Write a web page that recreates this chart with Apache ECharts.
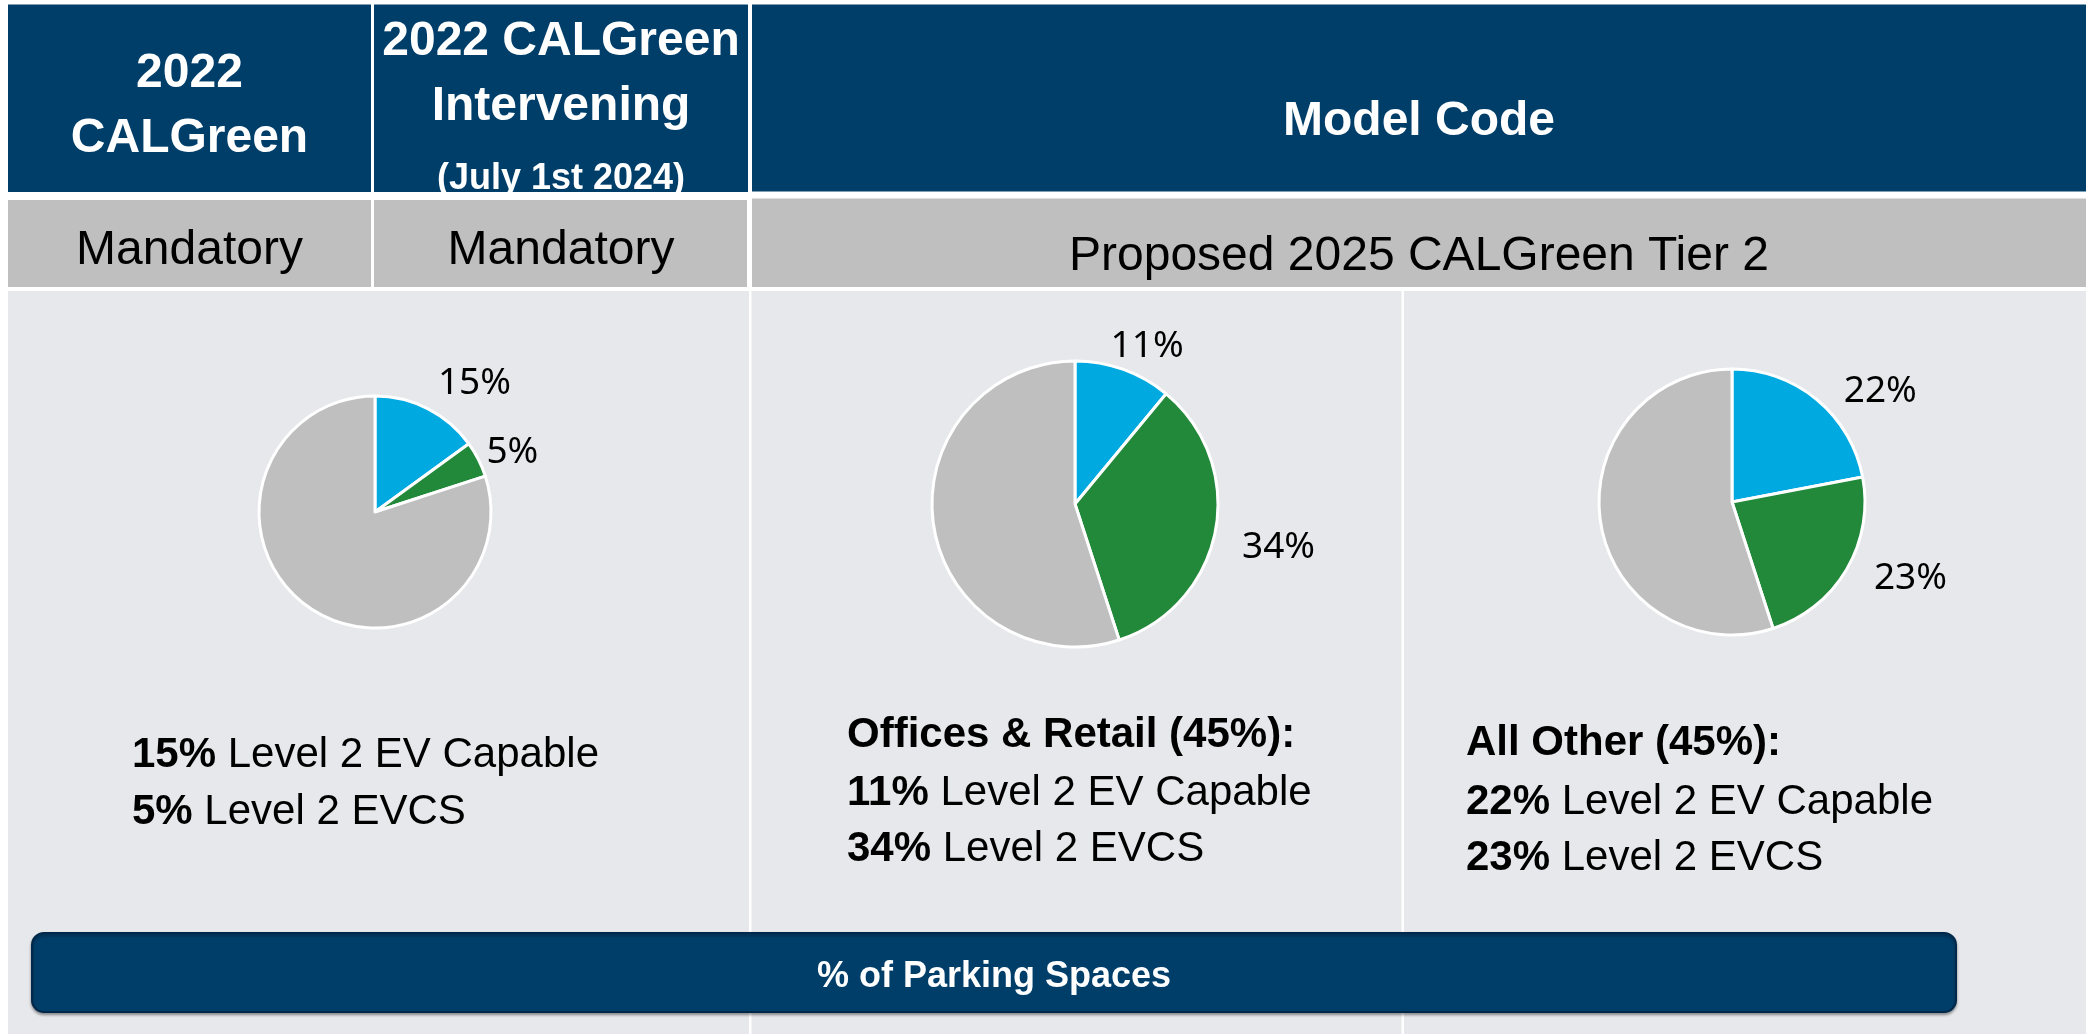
<!DOCTYPE html>
<html><head><meta charset="utf-8">
<script src="https://cdn.jsdelivr.net/npm/echarts@6/dist/echarts.min.js"></script>
<style>html,body{margin:0;padding:0;background:#fff;overflow:hidden;} #c{width:2086px;height:1034px;}</style>
</head><body><div id="c"></div>
<script>
// ---- data ----
const categories = ['Level 2 EV Capable', 'Level 2 EVCS', 'Remaining Spaces'];
const groupTitles = ['', 'Offices & Retail (45%):', 'All Other (45%):'];
const evCapable = [15, 11, 22];
const evcs = [5, 34, 23];
const remaining = [80, 55, 55];
const headerCol1 = ['2022', 'CALGreen'];
const headerCol2 = ['2022 CALGreen', 'Intervening', '(July 1st 2024)'];
const headerCol3 = ['Model Code'];
const subHeaders = ['Mandatory', 'Mandatory', 'Proposed 2025 CALGreen Tier 2'];
const footerLabel = '% of Parking Spaces';

// ---- styles / layout ----
const NAVY = '#003e6a', SUBGRAY = '#bfbfbf', BODY = '#e7e8ec';
const COLORS = ['#00a9e0', '#22883a', '#bfbfbf'];
const FONT = 'Liberation Sans, Arial, sans-serif';
const TY = 4; // vertical text nudge

const chart = echarts.init(document.getElementById('c'), null, {renderer: 'canvas'});

function rect(x, y, w, h, fill, z, extra) {
  return Object.assign({type: 'rect', z: z || 0, silent: true, shape: {x, y, width: w, height: h}, style: {fill}}, extra || {});
}
function txt(text, x, y, size, weight, color, align, z) {
  return {type: 'text', z: z || 2, silent: true, x, y: y + TY,
    style: {text, fill: color, fontSize: size, fontWeight: weight, fontFamily: FONT,
      align: align || 'center', textAlign: align || 'center', verticalAlign: 'middle', textVerticalAlign: 'middle'}};
}
function richLine(boldPart, rest, x, y) {
  return {type: 'text', z: 2, silent: true, x, y: y + TY,
    style: {text: '{b|' + boldPart + '}{r|' + rest + '}',
      align: 'left', textAlign: 'left', verticalAlign: 'middle', textVerticalAlign: 'middle',
      rich: {
        b: {fontSize: 42, fontWeight: 'bold', fontFamily: FONT, fill: '#000'},
        r: {fontSize: 42, fontWeight: 'normal', fontFamily: FONT, fill: '#000'}
      }}};
}

const g = [];
// header cells
g.push(rect(8, 4.5, 363, 187.5, NAVY));
g.push(rect(374, 4.5, 374, 187.5, NAVY));
g.push(rect(752, 4.5, 1334, 187, NAVY));
// sub header cells
g.push(rect(8, 200, 363, 87, SUBGRAY));
g.push(rect(374, 200, 373, 87, SUBGRAY));
g.push(rect(752, 198.5, 1334, 88.5, SUBGRAY));
// body cells
g.push(rect(8, 291, 741, 743, BODY));
g.push(rect(751.5, 291, 650, 743, BODY));
g.push(rect(1404, 291, 682, 743, BODY));

// header texts
g.push(txt(headerCol1[0], 189.5, 70, 48, 'bold', '#fff'));
g.push(txt(headerCol1[1], 189.5, 135, 48, 'bold', '#fff'));
g.push(txt(headerCol2[0], 561, 38, 48, 'bold', '#fff'));
g.push(txt(headerCol2[1], 561, 103, 48, 'bold', '#fff'));
g.push(txt(headerCol2[2], 561, 175, 36, 'bold', '#fff'));
g.push(txt(headerCol3[0], 1419, 118, 48, 'bold', '#fff'));
// cut the clipped line at the header bottom
g.push(rect(374, 192, 374, 7.8, '#ffffff', 5));

// sub header texts
g.push(txt(subHeaders[0], 189.5, 247, 48, 'normal', '#000'));
g.push(txt(subHeaders[1], 561, 247, 48, 'normal', '#000'));
g.push(txt(subHeaders[2], 1419, 253, 48, 'normal', '#000'));

// body text blocks
const blockLayout = [
  {x: 132, ys: [null, 751, 808]},
  {x: 847, ys: [731, 789, 845]},
  {x: 1466, ys: [739, 798, 854]}
];
blockLayout.forEach((b, i) => {
  if (groupTitles[i]) g.push(txt(groupTitles[i], b.x, b.ys[0], 42, 'bold', '#000', 'left'));
  g.push(richLine(evCapable[i] + '%', ' ' + categories[0], b.x, b.ys[1]));
  g.push(richLine(evcs[i] + '%', ' ' + categories[1], b.x, b.ys[2]));
});

// footer bar
g.push(rect(32, 933, 1924, 79, NAVY, 6, {
  shape: {x: 32, y: 933, width: 1924, height: 79, r: 12},
  style: {fill: NAVY, stroke: '#00284a', lineWidth: 2, shadowBlur: 3, shadowOffsetY: 2, shadowColor: 'rgba(0,0,0,0.35)'}
}));
g.push(txt(footerLabel, 994, 973, 36, 'bold', '#fff', 'center', 7));

const pieLayout = [
  {center: [375, 512], radius: 116, len: 27, nudge: [[-7, -1], [-21, 5]]},
  {center: [1075, 504], radius: 143, len: 24, nudge: [[-26, 0], [-2, 12]]},
  {center: [1732, 502], radius: 133, len: 11, nudge: [[15, 0], [13, 3]]}
];

const series = pieLayout.map((p, i) => ({
  type: 'pie', center: p.center, radius: p.radius, startAngle: 90, clockwise: true,
  animation: false, silent: true, avoidLabelOverlap: false, z: 3,
  itemStyle: {borderColor: '#ffffff', borderWidth: 3},
  label: {show: true, position: 'outside', formatter: '{c}%', fontFamily: 'Noto Sans', fontSize: 37, color: '#000'},
  labelLine: {show: false, length: p.len, length2: 0},
  labelLayout: (params) => {
    const n = p.nudge[params.dataIndex];
    return n ? {dx: n[0], dy: n[1]} : {};
  },
  emphasis: {disabled: true},
  data: [
    {name: categories[0], value: evCapable[i], itemStyle: {color: COLORS[0]}},
    {name: categories[1], value: evcs[i], itemStyle: {color: COLORS[1]}},
    {name: categories[2], value: remaining[i], itemStyle: {color: COLORS[2]}, label: {show: false}}
  ]
}));

chart.setOption({
  animation: false,
  backgroundColor: '#ffffff',
  graphic: {elements: g},
  series
});
</script>
</body></html>
